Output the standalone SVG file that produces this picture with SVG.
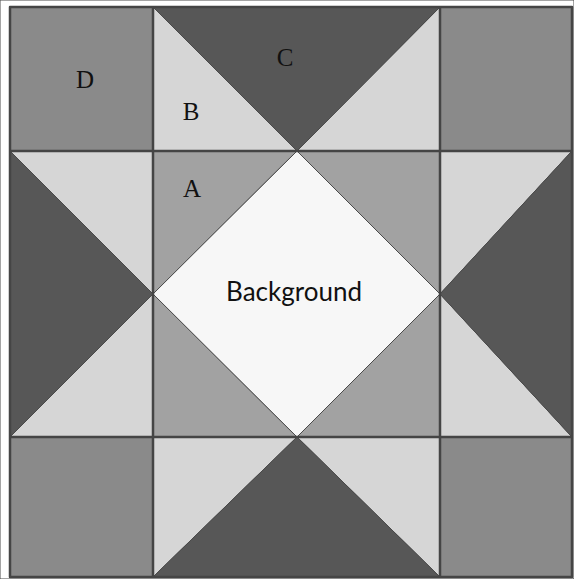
<svg xmlns="http://www.w3.org/2000/svg" width="574" height="579" viewBox="0 0 574 579">
<style>
.d{fill:#8a8a8a}.b{fill:#d6d6d6}.c{fill:#575757}.a{fill:#a2a2a2}.bg{fill:#f7f7f7}
polygon,rect{stroke:#4a4a4a;stroke-width:1;stroke-linejoin:round}
.g{stroke:#454545;stroke-width:2.5;fill:none}
.s{font-family:"Liberation Serif",serif;font-size:25px;fill:#111;text-anchor:middle}
.t{font-family:"Lato","Open Sans",sans-serif;font-size:26px;fill:#111;text-anchor:middle}
</style>
<rect width="574" height="579" fill="#fff" stroke="none"/>
<g id="corners">
<rect class="d" x="10" y="7" width="143" height="144"/>
<rect class="d" x="440" y="7" width="132" height="144"/>
<rect class="d" x="10" y="437" width="143" height="140"/>
<rect class="d" x="440" y="437" width="132" height="140"/>
</g>
<g id="top">
<polygon class="b" points="153,7 153,151 297,151"/>
<polygon class="b" points="440,7 440,151 297,151"/>
<polygon class="c" points="153,7 440,7 297,151"/>
</g>
<g id="bottom">
<polygon class="b" points="153,577 153,437 297,437"/>
<polygon class="b" points="440,577 440,437 297,437"/>
<polygon class="c" points="153,577 440,577 297,437"/>
</g>
<g id="left">
<polygon class="b" points="10,151 153,151 153,294"/>
<polygon class="b" points="10,437 153,437 153,294"/>
<polygon class="c" points="10,151 10,437 153,294"/>
</g>
<g id="right">
<polygon class="b" points="572,151 440,151 440,294"/>
<polygon class="b" points="572,437 440,437 440,294"/>
<polygon class="c" points="572,151 572,437 440,294"/>
</g>
<g id="center">
<polygon class="a" points="153,151 297,151 153,294"/>
<polygon class="a" points="440,151 297,151 440,294"/>
<polygon class="a" points="153,437 297,437 153,294"/>
<polygon class="a" points="440,437 297,437 440,294"/>
<polygon class="bg" points="297,151 440,294 297,437 153,294"/>
</g>
<g id="grid">
<rect class="g" x="10" y="7" width="562" height="570"/>
<path class="g" d="M153,7V577M440,7V577M10,151H572M10,437H572"/>
</g>
<g id="labels">
<text class="s" x="85" y="88">D</text>
<text class="s" x="285" y="66">C</text>
<text class="s" x="191" y="120">B</text>
<text class="s" x="192" y="197">A</text>
<text class="t" x="294" y="301">Background</text>
</g>
</svg>
